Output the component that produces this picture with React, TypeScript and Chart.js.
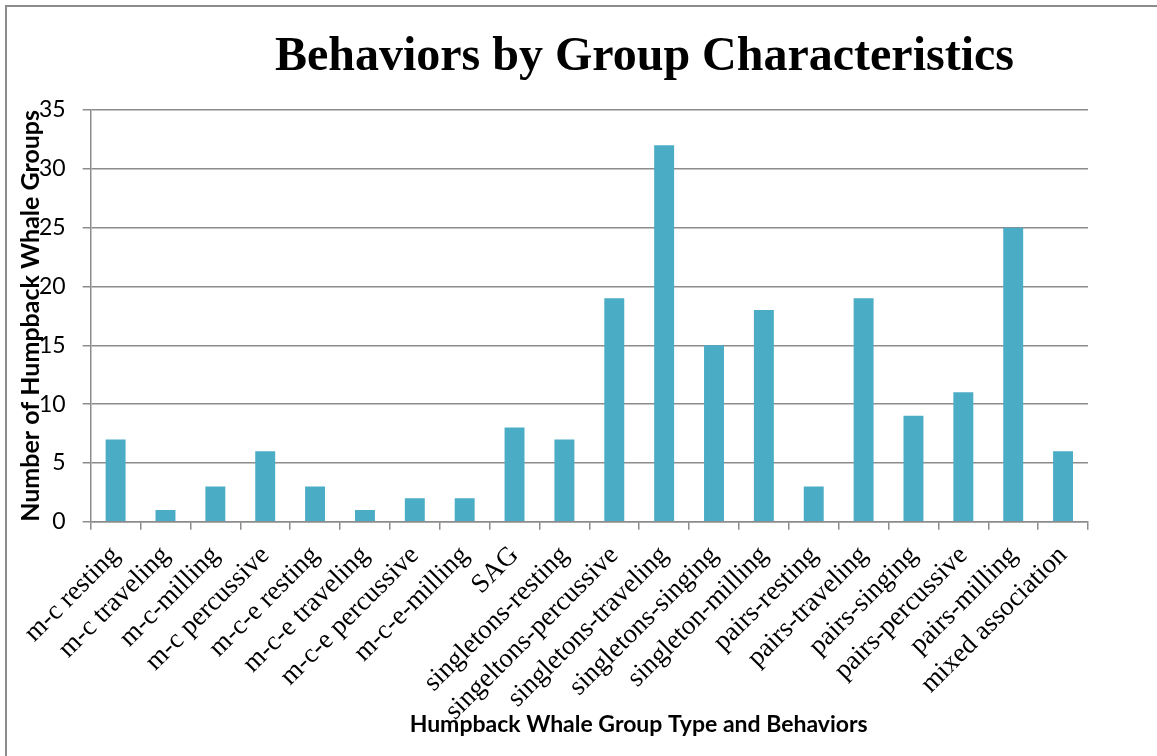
import { useEffect, useRef } from "react";
import { Chart, registerables } from "chart.js";

Chart.register(...registerables);

// Group type / behaviour categories along the x axis
const categories = [
  "m-c resting",
  "m-c traveling",
  "m-c-milling",
  "m-c percussive",
  "m-c-e resting",
  "m-c-e traveling",
  "m-c-e percussive",
  "m-c-e-milling",
  "SAG",
  "singletons-resting",
  "singeltons-percussive",
  "singletons-traveling",
  "singletons-singing",
  "singleton-milling",
  "pairs-resting",
  "pairs-traveling",
  "pairs-singing",
  "pairs-percussive",
  "pairs-milling",
  "mixed association",
];

// Number of humpback whale groups observed for each category
const groupCounts = [7, 1, 3, 6, 3, 1, 2, 2, 8, 7, 19, 32, 15, 18, 3, 19, 9, 11, 25, 6];

const yMin = 0;
const yMax = 35;
const yStep = 5;

const chartTitle = "Behaviors by Group Characteristics";
const xAxisTitle = "Humpback Whale Group Type and Behaviors";
const yAxisTitle = "Number of Humpback Whale Groups";

const GRID = "#8c8c8c";
const BAR = "#4BACC6";

// Draws the heading and both axis captions; the y caption sits partly over the tick column
const captionPlugin = {
  id: "captions",
  afterDraw(chart: any) {
    const { ctx, width, chartArea } = chart;
    ctx.save();
    ctx.fillStyle = "#000";
    ctx.textAlign = "center";
    ctx.textBaseline = "alphabetic";
    ctx.font = 'bold 48px "Liberation Serif"';
    ctx.fillText(chartTitle, width * 0.557, 70);
    ctx.font = 'bold 23px "Lato"';
    ctx.fillText(xAxisTitle, width * 0.552, 732);
    ctx.translate(31, (chartArea.top + chartArea.bottom) / 2);
    ctx.rotate(-Math.PI / 2);
    ctx.textBaseline = "middle";
    ctx.font = 'bold 25px "Lato"';
    ctx.fillText(yAxisTitle, 0, 0);
    ctx.restore();
  },
};

export default function App() {
  const canvasRef = useRef<HTMLCanvasElement | null>(null);

  useEffect(() => {
    document.body.style.margin = "0";
    const canvas = canvasRef.current;
    if (!canvas) return;
    const chart = new Chart(canvas, {
      type: "bar",
      data: {
        labels: categories,
        datasets: [
          {
            data: groupCounts,
            backgroundColor: BAR,
            borderWidth: 0,
            barPercentage: 0.4,
            categoryPercentage: 1,
          },
        ],
      },
      options: {
        animation: false,
        responsive: true,
        maintainAspectRatio: false,
        layout: { padding: { left: 22, right: 69, top: 110, bottom: 19 } },
        plugins: {
          legend: { display: false },
          tooltip: { enabled: false },
          title: { display: false },
        },
        scales: {
          x: {
            grid: {
              drawOnChartArea: false,
              drawTicks: true,
              tickLength: 8,
              color: GRID,
              lineWidth: 1.5,
            },
            border: { display: true, color: GRID, width: 1.5 },
            ticks: {
              autoSkip: false,
              maxRotation: 45,
              minRotation: 45,
              padding: 10,
              color: "#000",
              font: { family: '"Liberation Serif"', size: 27 },
            },
          },
          y: {
            min: yMin,
            max: yMax,
            ticks: {
              stepSize: yStep,
              padding: 17,
              color: "#000",
              font: { family: "Lato", size: 23 },
            },
            grid: {
              color: GRID,
              lineWidth: 1.5,
              tickLength: 8,
            },
            border: { display: true, color: GRID, width: 1.5 },
          },
        },
      },
      plugins: [captionPlugin],
    });
    return () => chart.destroy();
  }, []);

  return (
    <div style={{ position: "relative", width: 1157, height: 756, overflow: "hidden", background: "#fff" }}>
      <div
        style={{
          position: "absolute",
          left: 5,
          top: 5,
          width: 1170,
          height: 770,
          borderLeft: "2px solid #8c8c8c",
          borderTop: "2px solid #8c8c8c",
        }}
      />
      <canvas ref={canvasRef} style={{ position: "absolute", left: 0, top: 0 }} />
    </div>
  );
}
